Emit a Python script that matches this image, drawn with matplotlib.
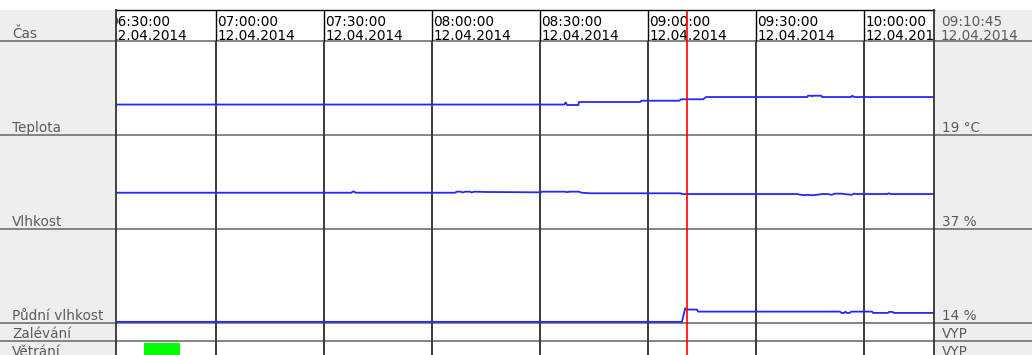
import matplotlib.pyplot as plt
from matplotlib.patches import Rectangle
from matplotlib.lines import Line2D

# time axis: minutes after 06:00 on 12.04.2014
grid_times = [30, 60, 90, 120, 150, 180, 210, 240]
grid_labels = ["06:30:00", "07:00:00", "07:30:00", "08:00:00",
               "08:30:00", "09:00:00", "09:30:00", "10:00:00"]
date_label = "12.04.2014"
t_start, t_end = 32.2, 259.4
cursor_time = 190.75
cursor_label = "09:10:45"

# Teplota (°C)
temp_t = [32.2, 156.7, 157.1, 157.5, 160.6, 160.8, 177.8, 178.1, 188.6,
          189.2, 195.3, 196.1, 224.2, 224.4, 225.3, 225.6, 225.8, 228.1,
          228.3, 236.4, 236.7, 237.2, 259.4]
temp_v = [16.2, 16.2, 17.3, 15.95, 15.95, 17.55, 17.55, 18.24, 18.24,
          19.0, 19.0, 20.2, 20.2, 20.9, 20.9, 20.5, 20.9, 20.9,
          20.2, 20.2, 20.9, 20.2, 20.2]

# Vlhkost (%)
hum_t = [32.2, 97.6, 97.9, 98.4, 98.7, 126.4, 126.8, 128.0, 128.4, 129.3,
         130.5, 130.9, 131.8, 134.7, 150.2, 150.5, 157.0, 157.4, 158.2,
         160.8, 161.5, 163.9, 189.0, 189.4, 221.4, 222.2, 223.6, 224.3,
         225.3, 226.5, 228.4, 230.0, 231.0, 231.8, 233.9, 234.3, 236.6,
         237.1, 238.0, 246.4, 246.8, 247.4, 259.4]
hum_v = [38.6, 38.6, 39.7, 39.7, 38.6, 38.6, 39.7, 39.7, 38.9, 39.7,
         39.7, 38.9, 39.7, 39.4, 39.0, 39.7, 39.7, 39.2, 39.7,
         39.7, 38.6, 38.0, 38.0, 37.2, 37.2, 36.5, 35.9, 36.5,
         35.9, 36.2, 37.2, 37.2, 36.3, 37.6, 37.6, 37.2, 36.4,
         37.6, 37.2, 37.2, 38.0, 37.2, 37.2]

# Půdní vlhkost (%)
soil_t = [32.2, 189.4, 190.3, 190.7, 193.6, 193.9, 233.3, 233.7, 234.5,
          234.8, 235.2, 236.0, 236.4, 242.2, 242.5, 246.6, 246.9, 247.9,
          248.2, 259.4]
soil_v = [0.2, 0.2, 14.8, 13.4, 13.4, 11.2, 11.2, 9.8, 9.8,
          11.2, 9.8, 9.8, 11.2, 11.2, 9.8, 9.8, 10.9, 10.9,
          9.8, 9.8]

# Větrání on-interval (start, duration)
vent_on = [(40.1, 10.0)]

row_names = ["Čas", "Teplota", "Vlhkost", "Půdní vlhkost", "Zalévání", "Větrání"]
row_values = ["", "19 °C", "37 %", "14 %", "VYP", "VYP"]
# row edges in pixels from the top
row_edges = [10, 41, 135, 229, 322.5, 340.5, 358.5]

W, H = 1032, 355
X0, X1 = 116, 934
FS = 9.8
GRAY_TXT = "#5c5c5c"


def fx(px):
    return px / W


def fy(py):
    return 1 - py / H


def main():
    fig = plt.figure(figsize=(W / 100, H / 100), dpi=100)

    # grey side panels
    fig.add_artist(Rectangle((0, 0), fx(X0), fy(10), transform=fig.transFigure,
                             facecolor="#eeeeee", edgecolor="none", zorder=-2))
    fig.add_artist(Rectangle((fx(X1), 0), 1 - fx(X1), fy(10), transform=fig.transFigure,
                             facecolor="#eeeeee", edgecolor="none", zorder=-2))

    axes = []
    for i in range(len(row_names)):
        top, bot = row_edges[i], row_edges[i + 1]
        ax = fig.add_axes([fx(X0), fy(bot), fx(X1) - fx(X0), (bot - top) / H])
        ax.set_xlim(t_start, t_end)
        ax.axis("off")
        if i == 0:
            for t in grid_times:
                ax.axvline(t, color="black", lw=1.0)
        else:
            for t in grid_times:
                ax.axvline(t, color="#3a3a3a", lw=1.4)
        ax.axvline(cursor_time, color="red", lw=1.2, zorder=5)
        axes.append(ax)

    # header: time labels
    ax_h = axes[0]
    hh = row_edges[1] - row_edges[0]
    for t, lab in zip(grid_times, grid_labels):
        ax_h.text(t + 0.3, (41 - 26) / hh, lab, transform=ax_h.get_xaxis_transform(),
                  fontsize=FS, color="black", va="baseline", ha="left", clip_on=True)
        ax_h.text(t + 0.3, (41 - 39.5) / hh, date_label, transform=ax_h.get_xaxis_transform(),
                  fontsize=FS, color="black", va="baseline", ha="left", clip_on=True)

    line_kw = dict(color="#2626ff", lw=1.3)
    axes[1].plot(temp_t, temp_v, **line_kw)
    axes[1].set_ylim(0, 50)
    axes[2].plot(hum_t, hum_v, **line_kw)
    axes[2].set_ylim(0, 100)
    axes[3].plot(soil_t, soil_v, **line_kw)
    axes[3].set_ylim(-0.5, 100)
    axes[4].set_ylim(0, 1)
    axes[5].set_ylim(0, 1)
    axes[5].broken_barh(vent_on, (0.0, 0.88), facecolor="#00ff00")

    # row separators across the whole width
    for y in row_edges[1:-1]:
        fig.add_artist(Line2D([0, 1], [fy(y), fy(y)], transform=fig.transFigure,
                              color="#707070", lw=1.2, zorder=-1))
    # frame of the plot area
    fig.add_artist(Line2D([fx(X0), fx(X1)], [fy(10), fy(10)], transform=fig.transFigure,
                          color="black", lw=1.0, zorder=1))
    for x in (X0, X1):
        fig.add_artist(Line2D([fx(x), fx(x)], [0, fy(10)], transform=fig.transFigure,
                              color="#333333", lw=1.3, zorder=1))

    # left labels and right values
    for i, name in enumerate(row_names):
        base = row_edges[i + 1] - 2.5
        fig.text(fx(12), fy(base), name, fontsize=FS, color=GRAY_TXT, va="baseline")
        if row_values[i]:
            fig.text(fx(942), fy(base), row_values[i], fontsize=FS, color=GRAY_TXT,
                     va="baseline")
    fig.text(fx(941), fy(26), cursor_label, fontsize=FS, color=GRAY_TXT, va="baseline")
    fig.text(fx(941), fy(39.5), date_label, fontsize=FS, color=GRAY_TXT, va="baseline")

    fig.savefig("out.png", dpi=100)


if __name__ == "__main__":
    main()
